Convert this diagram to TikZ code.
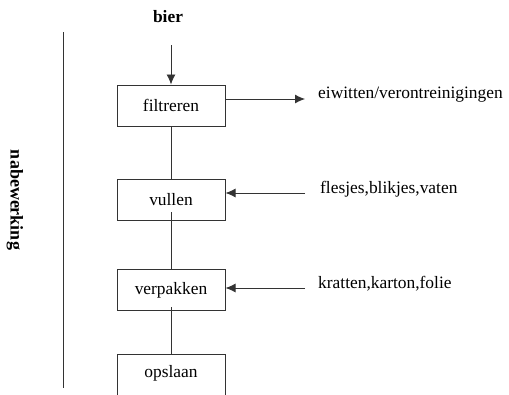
\documentclass[tikz,border=0pt]{standalone}
\usepackage{fontspec}
\setmainfont{Liberation Serif}
\usetikzlibrary{arrows.meta,calc}
\begin{document}
\begin{tikzpicture}[x=1pt,y=-1pt,
  every node/.style={font=\fontsize{17.4}{20}\selectfont},
  stepbox/.style={draw=black!80,line width=1pt,minimum width=108pt,minimum height=41pt,inner sep=0pt},
  conn/.style={draw=black!80,line width=0.9pt},
  arr/.style={conn,-{Latex[length=10pt,width=9pt]}},
  lbl/.style={anchor=west,inner sep=0pt}]
\useasboundingbox (0,0) rectangle (509,394);
\clip (0,0) rectangle (509,394);
\node[font=\fontsize{17.4}{20}\selectfont\bfseries] (bier) at (168,17) {bier};
\coordinate (bierend) at (171,45);
\node[stepbox] (filtreren) at (171,105.5) {filtreren};
\node[stepbox] (vullen) at (171,200) {vullen};
\node[stepbox] (verpakken) at (171,290) {verpakken};
\node[stepbox] (opslaan) at (171,375) {};
\node at (171,373) {opslaan};
\node[rotate=-90,font=\fontsize{18}{20}\selectfont\bfseries] (nabew) at (15,200) {nabewerking};
\coordinate (vtop) at (63,32);
\coordinate (vbot) at (63,388);
\draw[conn] (vtop) -- (vbot);
\draw[arr] (bierend) -- (filtreren.north);
\draw[conn] (filtreren.south) -- (vullen.north);
\draw[conn] ([yshift=9pt]vullen.south) -- (verpakken.north);
\draw[conn] ([yshift=4pt]verpakken.south) -- (opslaan.north);
% side labels
\node[lbl] (eiw) at (318,95) {eiwitten/verontreinigingen};
\node[lbl] (fles) at (320,189) {flesjes,blikjes,vaten};
\node[lbl] (krat) at (318,284) {kratten,karton,folie};
\coordinate (e1) at (305,99);
\coordinate (f1) at (305,193);
\coordinate (k1) at (305,288);
\draw[arr] (e1 -| filtreren.east) -- (e1);
\draw[arr] (f1) -- (f1 -| vullen.east);
\draw[arr] (k1) -- (k1 -| verpakken.east);
\end{tikzpicture}
\end{document}
